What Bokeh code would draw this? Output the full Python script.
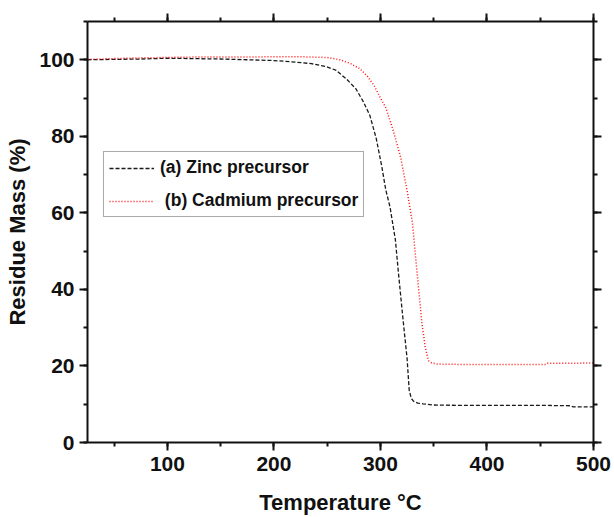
from bokeh.plotting import figure
from bokeh.models import (Range1d, LinearAxis, SingleIntervalTicker, Legend, LegendItem,
                          CustomJSTickFormatter)
from bokeh.embed import file_html
from bokeh.resources import INLINE

zinc_temp = [25, 50, 75, 100, 125, 150, 175, 200, 220, 235, 248, 258, 268, 277, 284, 290,
             296, 301, 305, 309, 314, 317, 320, 322, 325, 327, 329, 331, 335, 340, 350,
             375, 400, 450, 478, 481, 500]
zinc_mass = [100.0, 100.1, 100.2, 100.4, 100.3, 100.2, 100.0, 99.8, 99.4, 99.0, 98.3, 97.3,
             95.0, 92.4, 89.0, 85.5, 79.5, 72.5, 66.0, 61.5, 53.0, 44.0, 35.5, 30.0, 22.0,
             13.6, 11.5, 10.8, 10.3, 10.1, 9.8, 9.7, 9.7, 9.7, 9.6, 9.3, 9.3]

cd_temp = [25, 50, 75, 100, 125, 150, 175, 200, 225, 250, 262, 272, 281, 288, 294, 300,
           305, 312, 319, 325, 330, 333, 336, 339, 342, 345, 348, 353, 375, 400, 430, 455,
           457, 480, 500]
cd_mass = [100.1, 100.3, 100.5, 100.6, 100.7, 100.7, 100.7, 100.8, 100.8, 100.6, 100.0, 99.0,
           97.6, 95.6, 93.3, 90.0, 87.5, 81.5, 74.5, 65.8, 57.5, 48.4, 39.7, 31.0, 25.0, 21.4,
           20.8, 20.5, 20.4, 20.4, 20.4, 20.4, 20.7, 20.7, 20.8]

series_labels = ["(a) Zinc precursor", " (b) Cadmium precursor"]
x_label = "Temperature \u00b0C"
y_label = "Residue Mass (%)"

FONT = "Liberation Sans"

p = figure(width=614, height=517, x_range=Range1d(25, 500), y_range=Range1d(0, 110),
           output_backend="svg", toolbar_location=None,
           min_border_left=87, min_border_top=21, min_border_right=21, min_border_bottom=75)
p.outline_line_color = None
p.xgrid.visible = False
p.ygrid.visible = False
p.xaxis.visible = False
p.yaxis.visible = False

def style(ax, labels=True):
    ax.axis_line_width = 2
    ax.axis_line_color = "#111111"
    ax.major_tick_line_width = 2
    ax.minor_tick_line_width = 2
    ax.major_tick_line_color = "#111111"
    ax.minor_tick_line_color = "#111111"
    ax.major_tick_in = 0
    ax.major_tick_out = 8
    ax.minor_tick_in = 0
    ax.minor_tick_out = 4
    if labels:
        ax.major_label_text_font = FONT
        ax.major_label_text_font_style = "bold"
        ax.major_label_text_font_size = "21px"
        ax.major_label_text_color = "#111111"
        ax.axis_label_text_font = FONT
        ax.axis_label_text_font_style = "bold"
        ax.axis_label_text_font_size = "22px"
        ax.axis_label_text_color = "#111111"
    else:
        ax.formatter = CustomJSTickFormatter(code="return ''")
        ax.major_label_text_font_size = "1px"
        ax.major_label_standoff = 0

xb = LinearAxis(ticker=SingleIntervalTicker(interval=100, num_minor_ticks=2), axis_label=x_label)
style(xb)
xb.major_label_standoff = 6
xb.axis_label_standoff = 16
p.add_layout(xb, "below")

yl = LinearAxis(ticker=SingleIntervalTicker(interval=20, num_minor_ticks=2), axis_label=y_label)
style(yl)
yl.major_label_standoff = 5
yl.axis_label_standoff = 6
p.add_layout(yl, "left")

xt = LinearAxis(ticker=SingleIntervalTicker(interval=100, num_minor_ticks=2))
style(xt, labels=False)
p.add_layout(xt, "above")

yr = LinearAxis(ticker=SingleIntervalTicker(interval=20, num_minor_ticks=2))
style(yr, labels=False)
p.add_layout(yr, "right")

r1 = p.line(zinc_temp, zinc_mass, line_color="#1a1a1a", line_width=1.3, line_dash="4 2")
r2 = p.line(cd_temp, cd_mass, line_color="#ff1010", line_width=1.5, line_dash="1 2")

legend = Legend(items=[LegendItem(label=series_labels[0], renderers=[r1]),
                       LegendItem(label=series_labels[1], renderers=[r2])],
                location=(16, 225))
legend.label_text_font = FONT
legend.label_text_font_style = "bold"
legend.label_text_font_size = "17.5px"
legend.label_text_color = "#111111"
legend.glyph_width = 45
legend.glyph_height = 20
legend.label_height = 20
legend.label_standoff = 6
legend.spacing = 12
legend.padding = 5
legend.margin = 0
legend.border_line_color = "#555555"
legend.border_line_width = 1.5
legend.background_fill_color = "white"
legend.background_fill_alpha = 1
p.add_layout(legend, "center")

open("out.html", "w").write(file_html(p, INLINE))
